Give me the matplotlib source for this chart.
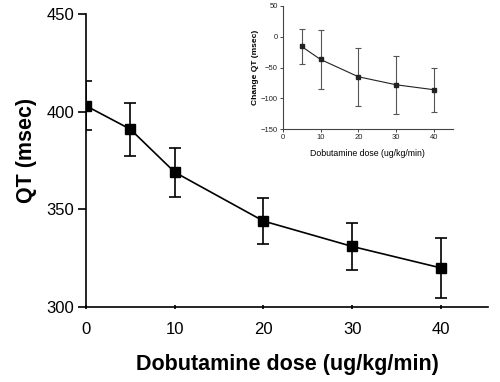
import matplotlib.pyplot as plt

plt.rcParams['font.family'] = ['Liberation Sans', 'DejaVu Sans']

# main panel: QT interval by dobutamine dose
dose = [0, 5, 10, 20, 30, 40]
qt = [403, 391, 369, 344, 331, 320]
qt_err = [12.5, 13.5, 12.5, 12, 12, 15.5]

# inset: change in QT from baseline
dose_ch = [5, 10, 20, 30, 40]
qt_change = [-16, -37, -65, -78, -86]
qt_change_err = [28, 47, 47, 47, 36]

fig = plt.figure(figsize=(5, 3.82), dpi=100)
W, H = 500, 382

ax = fig.add_axes([86 / W, 1 - 307 / H, (488 - 86) / W, (307 - 14) / H])
ax.errorbar(dose, qt, yerr=qt_err, fmt='s-', color='black', ms=7,
            lw=1.2, elinewidth=1.2, capsize=4.5, capthick=1.2)
ax.set_xlim(0, 45.3)
ax.set_ylim(300, 450)
ax.set_xticks([0, 10, 20, 30, 40])
ax.set_yticks([300, 350, 400, 450])
ax.spines['top'].set_visible(False)
ax.spines['right'].set_visible(False)
ax.spines['left'].set_linewidth(1.2)
ax.spines['bottom'].set_linewidth(1.2)
ax.tick_params(axis='y', direction='out', length=5.5, width=1.2, labelsize=12, pad=3)
ax.tick_params(axis='x', direction='inout', length=3.5, width=1.2, labelsize=12, pad=9)
ax.set_xlabel('Dobutamine dose (ug/kg/min)', fontsize=15.5, fontweight='bold', labelpad=12)
ax.set_ylabel('QT (msec)', fontsize=15.5, fontweight='bold')
ax.yaxis.set_label_coords(-0.122, 0.535)

ins = fig.add_axes([282.7 / W, 1 - 129.3 / H, (453 - 282.7) / W, (129.3 - 5.7) / H])
ins.errorbar(dose_ch, qt_change, yerr=qt_change_err, fmt='s-', color='#222222',
             ecolor='#555555', ms=3.2, lw=0.8, elinewidth=0.8, capsize=2.5, capthick=0.8)
ins.set_xlim(0, 45)
ins.set_ylim(-150, 50)
ins.set_xticks([0, 10, 20, 30, 40])
ins.set_yticks([-150, -100, -50, 0, 50])
ins.spines['top'].set_visible(False)
ins.spines['right'].set_visible(False)
for s in ('left', 'bottom'):
    ins.spines[s].set_linewidth(0.8)
    ins.spines[s].set_color('#444444')
ins.tick_params(direction='out', length=2, width=0.7, labelsize=5.5, pad=1.5,
                colors='#444444', labelcolor='#222222')
ins.set_xlabel('Dobutamine dose (ug/kg/min)', fontsize=6.3, labelpad=6)
ins.set_ylabel('Change QT (msec)', fontsize=6, fontweight='bold', labelpad=1)

fig.savefig('out.png', dpi=100)
